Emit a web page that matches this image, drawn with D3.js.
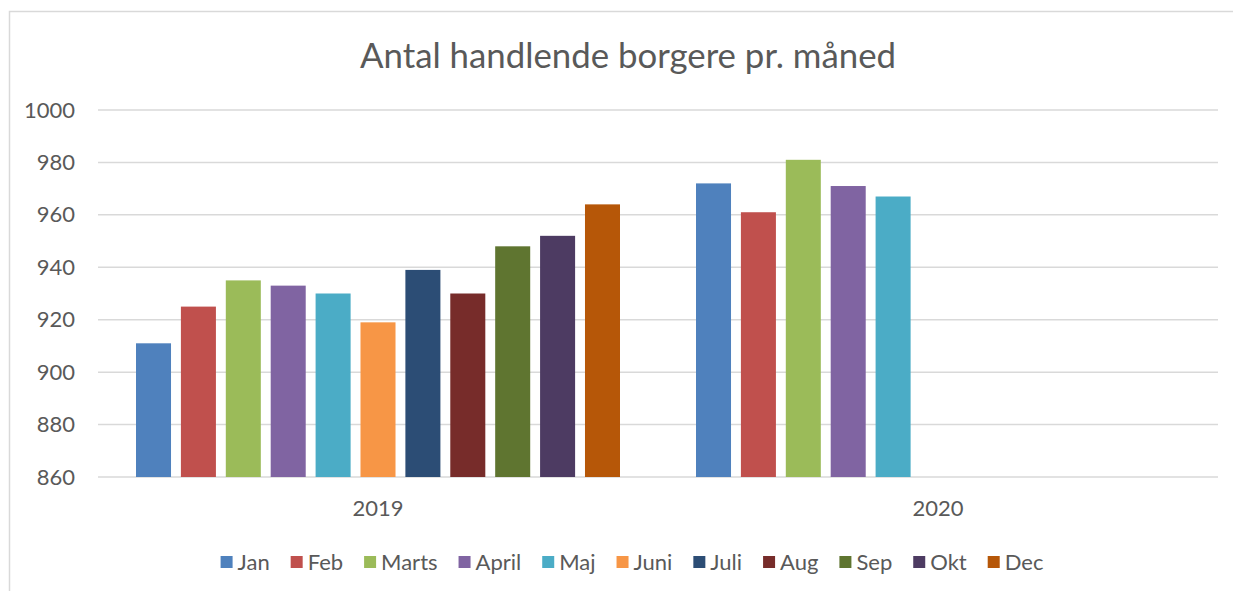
<!DOCTYPE html>
<html>
<head>
<meta charset="utf-8">
<script src="https://cdn.jsdelivr.net/npm/d3@7/dist/d3.min.js"></script>
<style>
  html, body { margin: 0; padding: 0; background: #fff; }
  svg { display: block; font-family: Lato, "Open Sans", sans-serif; }
</style>
</head>
<body>
<svg id="chart" width="1233" height="591"></svg>
<script>
const title = "Antal handlende borgere pr. måned";
const years = ["2019", "2020"];
const months = ["Jan", "Feb", "Marts", "April", "Maj", "Juni", "Juli", "Aug", "Sep", "Okt", "Dec"];
const colors = ["#4f81bd", "#c0504d", "#9bbb59", "#8064a2", "#4bacc6", "#f79646", "#2c4d75", "#772c2a", "#5f7530", "#4d3b62", "#b65708"];
const values2019 = [911, 925, 935, 933, 930, 919, 939, 930, 948, 952, 964];
const values2020 = [972, 961, 981, 971, 967, null, null, null, null, null, null];
const yTicks = [860, 880, 900, 920, 940, 960, 980, 1000];

const seriesByYear = [values2019, values2020];

const svg = d3.select("#chart");
const textColor = "#595959";
const gridColor = "#d9d9d9";

// outer frame
svg.append("path")
  .attr("d", "M9.5,591 L9.5,11.5 L1233,11.5")
  .attr("fill", "none").attr("stroke", gridColor).attr("stroke-width", 1.5);

const plot = { left: 98, right: 1218, top: 110, bottom: 477 };

const x0 = d3.scaleBand().domain(years).range([plot.left, plot.right]).padding(0);
const x1 = d3.scaleBand().domain(months)
  .range([38, x0.bandwidth() - 38]).paddingInner(0.22).paddingOuter(0);
const y = d3.scaleLinear().domain([860, 1000]).range([plot.bottom, plot.top]);

// gridlines
svg.append("g").selectAll("line").data(yTicks).join("line")
  .attr("x1", plot.left).attr("x2", plot.right)
  .attr("y1", d => y(d)).attr("y2", d => y(d))
  .attr("stroke", gridColor).attr("stroke-width", 1.5);

// y axis labels via d3 axis
const yAxis = d3.axisLeft(y).tickValues(yTicks).tickFormat(d3.format("d")).tickSize(0).tickPadding(0);
const gy = svg.append("g").attr("transform", `translate(${plot.left - 23},0)`).call(yAxis);
gy.select(".domain").remove();
gy.selectAll("text").attr("fill", textColor).style("font-size", "22px")
  .style("font-family", "Lato, sans-serif");

// bars
const groups = svg.append("g").selectAll("g").data(years).join("g")
  .attr("transform", d => `translate(${x0(d)},0)`);
groups.each(function(yr, i) {
  const data = months.map((m, j) => ({ m, v: seriesByYear[i][j], c: colors[j] }))
    .filter(d => d.v != null);
  d3.select(this).selectAll("rect").data(data).join("rect")
    .attr("x", d => x1(d.m))
    .attr("width", x1.bandwidth())
    .attr("y", d => y(d.v))
    .attr("height", d => y(860) - y(d.v))
    .attr("fill", d => d.c);
});

// x axis labels
const xAxis = d3.axisBottom(x0).tickSize(0).tickPadding(0);
const gx = svg.append("g").attr("transform", `translate(0,${plot.bottom + 31})`).call(xAxis);
gx.select(".domain").remove();
gx.selectAll("text").attr("fill", textColor).attr("dy", "0.35em")
  .style("font-size", "22px").style("font-family", "Lato, sans-serif");

// title
const t = svg.append("text")
  .attr("x", 628).attr("y", 68)
  .attr("text-anchor", "middle")
  .attr("fill", textColor)
  .style("font-size", "34px")
  .text(title);
t.attr("textLength", 536).attr("lengthAdjust", "spacingAndGlyphs");

// legend
const legend = svg.append("g");
const legendY = 562;
const sq = 12, gap = 5, spacing = 21;
let cx = 0;
const items = legend.selectAll("g").data(months).join("g");
items.each(function(m, j) {
  const g = d3.select(this);
  g.append("rect").attr("x", 0).attr("y", legendY - sq / 2)
    .attr("width", sq).attr("height", sq).attr("fill", colors[j]);
  const tx = g.append("text").attr("x", sq + gap).attr("y", legendY)
    .attr("dy", "0.35em").attr("fill", textColor)
    .style("font-size", "22px").text(m);
  const w = tx.node().getComputedTextLength();
  g.attr("transform", `translate(${cx},0)`);
  cx += sq + gap + w + spacing;
});
const totalW = cx - spacing;
legend.attr("transform", `translate(${632 - totalW / 2},0)`);
</script>
</body>
</html>
